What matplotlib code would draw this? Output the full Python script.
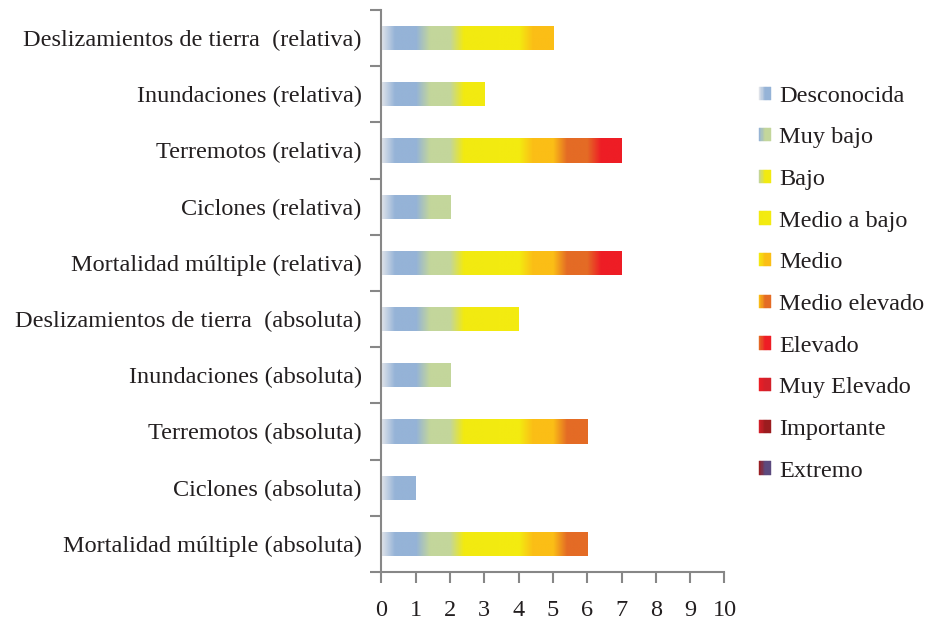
import matplotlib
matplotlib.use("Agg")
import matplotlib.pyplot as plt
import numpy as np
from matplotlib.colors import to_rgba
from matplotlib.patches import Rectangle
from matplotlib.legend_handler import HandlerBase

plt.rcParams['font.family'] = ['Liberation Serif', 'DejaVu Serif']

# categories, bottom to top
categorias = [
    "Mortalidad múltiple (absoluta)",
    "Ciclones (absoluta)",
    "Terremotos (absoluta)",
    "Inundaciones (absoluta)",
    "Deslizamientos de tierra  (absoluta)",
    "Mortalidad múltiple (relativa)",
    "Ciclones (relativa)",
    "Terremotos (relativa)",
    "Inundaciones (relativa)",
    "Deslizamientos de tierra  (relativa)",
]

niveles = ["Desconocida", "Muy bajo", "Bajo", "Medio a bajo", "Medio",
           "Medio elevado", "Elevado", "Muy Elevado", "Importante", "Extremo"]

desconocida   = [1, 1, 1, 1, 1, 1, 1, 1, 1, 1]
muy_bajo      = [1, 0, 1, 1, 1, 1, 1, 1, 1, 1]
bajo          = [1, 0, 1, 0, 1, 1, 0, 1, 1, 1]
medio_a_bajo  = [1, 0, 1, 0, 1, 1, 0, 1, 0, 1]
medio         = [1, 0, 1, 0, 0, 1, 0, 1, 0, 1]
medio_elevado = [1, 0, 1, 0, 0, 1, 0, 1, 0, 0]
elevado       = [0, 0, 0, 0, 0, 1, 0, 1, 0, 0]
muy_elevado   = [0, 0, 0, 0, 0, 0, 0, 0, 0, 0]
importante    = [0, 0, 0, 0, 0, 0, 0, 0, 0, 0]
extremo       = [0, 0, 0, 0, 0, 0, 0, 0, 0, 0]

series = [desconocida, muy_bajo, bajo, medio_a_bajo, medio,
          medio_elevado, elevado, muy_elevado, importante, extremo]

colores = ["#95b3d7", "#c3d69b", "#f2ea10", "#f3eb10", "#fbbe16",
           "#e46b25", "#ee1d25", "#d3202a", "#9b1c1f", "#5c4a7e"]
inicio = "#e2e5ea"


def gradiente(c0, c1, n=60, frac=0.4):
    a = np.array(to_rgba(c0))
    b = np.array(to_rgba(c1))
    t = np.clip(np.linspace(0, 1, n) / frac, 0, 1)[:, None]
    return (a * (1 - t) + b * t)[None, :, :]


class GradHandler(HandlerBase):
    def create_artists(self, legend, orig_handle, xdescent, ydescent,
                       width, height, fontsize, trans):
        cols = gradiente(orig_handle.c0, orig_handle.c1, n=10, frac=0.5)[0]
        arts = []
        for k, col in enumerate(cols):
            r = Rectangle((-xdescent + k * width / len(cols), -ydescent),
                          width / len(cols), height, facecolor=col,
                          edgecolor=col, lw=0.3, transform=trans)
            arts.append(r)
        return arts


fig = plt.figure(figsize=(9.3, 6.21), dpi=100)
ax = fig.add_axes([0.41, 0.079, 0.369, 0.905])

y = np.arange(len(categorias))
left = np.zeros(len(categorias))
alto = 0.43
for j, vals in enumerate(series):
    vals = np.array(vals, dtype=float)
    bars = ax.barh(y, vals, left=left, height=alto, color=colores[j],
                   linewidth=0)
    c0 = inicio if j == 0 else colores[j - 1]
    for b in bars:
        if b.get_width() <= 0:
            continue
        x0, y0 = b.get_x(), b.get_y()
        im = ax.imshow(gradiente(c0, colores[j]), aspect='auto',
                       extent=[x0, x0 + b.get_width(), y0, y0 + b.get_height()],
                       interpolation='bilinear', zorder=2)
        im.set_clip_path(b)
    left += vals

ax.set_xlim(0, 10)
ax.set_ylim(-0.5, len(categorias) - 0.5)
ax.set_xticks(range(11))
ax.set_yticks(y)
ax.set_yticklabels(categorias)
ax.set_yticks(np.arange(-0.5, len(categorias)), minor=True)

gris = "#878787"
fs = 17.5
for s in ['top', 'right']:
    ax.spines[s].set_visible(False)
for s in ['left', 'bottom']:
    ax.spines[s].set_color(gris)
    ax.spines[s].set_linewidth(1.5)
ax.tick_params(axis='y', which='major', length=0, pad=14, labelsize=fs,
               labelcolor='#231f20')
ax.tick_params(axis='y', which='minor', length=8, width=1.5, color=gris)
ax.tick_params(axis='x', length=8, width=1.5, color=gris, pad=12,
               labelsize=fs, labelcolor='#231f20')

proxies = []
for j in range(len(niveles)):
    p = Rectangle((0, 0), 1, 1)
    p.c0 = inicio if j == 0 else colores[j - 1]
    p.c1 = colores[j]
    proxies.append(p)

fig.legend(proxies, niveles, handler_map={Rectangle: GradHandler()},
           loc='upper left', bbox_to_anchor=(0.816, 0.862), frameon=False,
           fontsize=fs, handlelength=0.5, handleheight=0.45,
           handletextpad=0.33, labelspacing=0.85, labelcolor='#231f20',
           borderaxespad=0, borderpad=0)

fig.savefig("out.png", dpi=100)
